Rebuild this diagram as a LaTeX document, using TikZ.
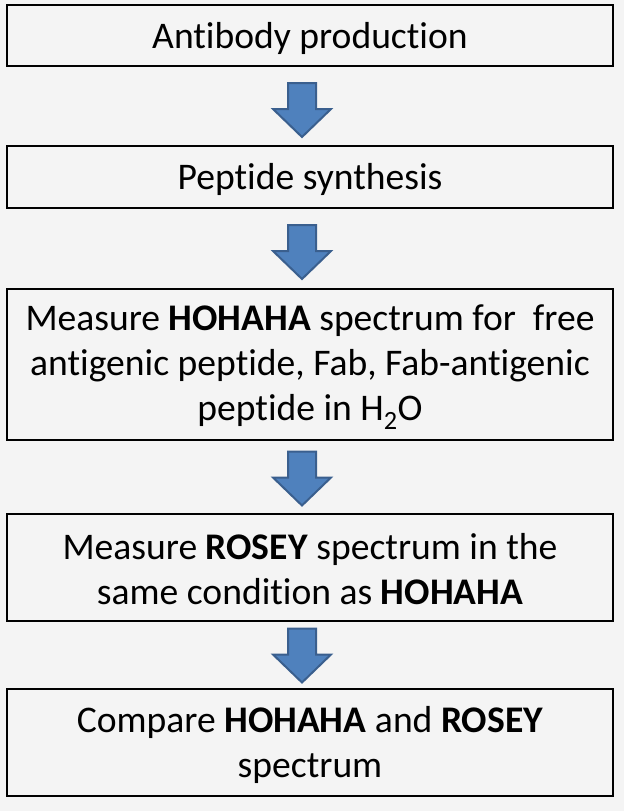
\documentclass[tikz,border=0pt]{standalone}
\usepackage{fontspec}
\setmainfont{Carlito}[Ligatures=NoCommon]
\definecolor{bg}{HTML}{F4F4F4}
\definecolor{arrfill}{HTML}{4F81BD}
\definecolor{arrline}{HTML}{3A5F8E}
\tikzset{
  stepbox/.style={draw=black, line width=2.5pt, minimum width=606pt, inner sep=0pt},
  boxtext/.style={inner sep=0pt, align=center, font=\fontsize{37.6}{45}\selectfont, text=black},
  blockarrow/.style={fill=arrfill, draw=arrline, line width=2pt, line join=miter}
}
\newcommand{\downarrowat}[1]{%
  \draw[blockarrow, shift={(#1)}] (-14,-27) -- (14,-27) -- (14,-1) -- (29,-1) -- (0,27) -- (-29,-1) -- (-14,-1) -- cycle;}
\begin{document}
\begin{tikzpicture}[x=1pt,y=-1pt]
\useasboundingbox[fill=bg] (0,0) rectangle (624,811);
\node[stepbox, minimum height=61pt] (b1) at (310,35.5) {};
\node[stepbox, minimum height=62pt] (b2) at (310,177) {};
\node[stepbox, minimum height=151pt] (b3) at (310,364.5) {};
\node[stepbox, minimum height=107pt] (b4) at (310,567.5) {};
\node[stepbox, minimum height=107pt] (b5) at (310,742.5) {};
\node[boxtext] (t1) at ([yshift=-2.5pt]b1.center) {Antibody production};
\node[boxtext] (t2) at ([yshift=-2pt]b2.center) {Peptide synthesis};
\node[boxtext] (t3) at ([yshift=-2.5pt]b3.center) {Measure \textbf{HOHAHA} spectrum for\ \ free\\antigenic peptide, Fab, Fab-antigenic\\peptide in H\textsubscript{2}O};
\node[boxtext] (t4) at ([yshift=-1.5pt]b4.center) {Measure \textbf{ROSEY} spectrum in the\\same condition as \textbf{HOHAHA}};
\node[boxtext] (t5) at ([yshift=-2.5pt]b5.center) {Compare \textbf{HOHAHA} and \textbf{ROSEY}\\spectrum};
\coordinate (a1) at (302,110);
\coordinate (a2) at (302,252);
\coordinate (a3) at (302,478.5);
\coordinate (a4) at (302,655.5);
\downarrowat{a1}
\downarrowat{a2}
\downarrowat{a3}
\downarrowat{a4}
\end{tikzpicture}
\end{document}
